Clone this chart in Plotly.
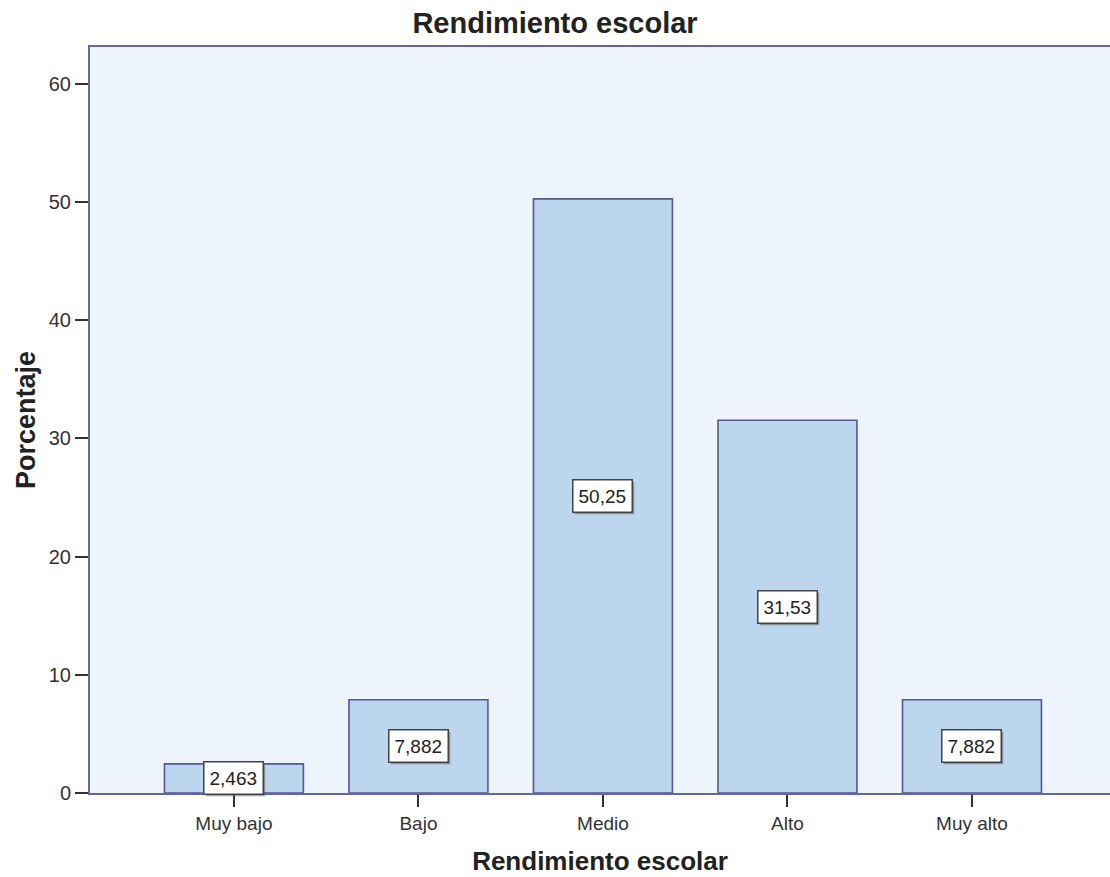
import plotly.graph_objects as go

# Rendimiento escolar: percentage of students per performance level
categorias = ["Muy bajo", "Bajo", "Medio", "Alto", "Muy alto"]
porcentajes = [2.463, 7.882, 50.25, 31.53, 7.882]
y_ticks = [0, 10, 20, 30, 40, 50, 60]

FONT = "Liberation Sans, Arial, sans-serif"
AXIS_BLUE = "#6565a3"
BAR_FILL = "#bcd6ee"
BAR_LINE = "#56569a"
PLOT_BG = "#edf4fc"
TEXT = "#222222"


def etiqueta(v):
    # four significant digits with a decimal comma
    return f"{v:.4g}".replace(".", ",")


fig = go.Figure(
    go.Bar(
        x=list(range(len(categorias))),
        y=porcentajes,
        width=0.753,
        marker=dict(color=BAR_FILL, line=dict(color=BAR_LINE, width=1.6)),
        hoverinfo="skip",
    )
)

# value labels: white boxes with a soft drop shadow, centred in each bar
for i, v in enumerate(porcentajes):
    fig.add_annotation(
        x=i, y=v / 2, text=etiqueta(v), showarrow=False,
        xshift=2, yshift=-2,
        font=dict(family=FONT, size=19, color="rgba(0,0,0,0)"),
        bgcolor="rgba(90,90,90,0.55)", bordercolor="rgba(90,90,90,0.0)",
        borderwidth=1.5, borderpad=5,
    )
    fig.add_annotation(
        x=i, y=v / 2, text=etiqueta(v), showarrow=False,
        font=dict(family=FONT, size=19, color=TEXT),
        bgcolor="white", bordercolor="#444444",
        borderwidth=1.5, borderpad=5,
    )

fig.update_layout(
    width=1110,
    height=877,
    margin=dict(l=90, r=0, t=47, b=84),
    paper_bgcolor="white",
    plot_bgcolor=PLOT_BG,
    showlegend=False,
    font=dict(family=FONT, color=TEXT),
    title=dict(
        text="Rendimiento escolar",
        x=0.5, xanchor="center",
        y=1 - 23 / 877, yanchor="middle", yref="container",
        font=dict(family=FONT, size=29, weight="bold", color=TEXT),
    ),
    xaxis=dict(
        range=[-0.78, 4.748],
        tickmode="array",
        tickvals=list(range(len(categorias))),
        ticktext=categorias,
        ticks="outside", ticklen=12, tickwidth=2, tickcolor="#333333",
        tickfont=dict(family=FONT, size=19, color="#333333"),
        showline=True, linecolor=AXIS_BLUE, linewidth=2, mirror=True,
        showgrid=False, zeroline=False,
        title=dict(
            text="Rendimiento escolar",
            font=dict(family=FONT, size=26, weight="bold", color=TEXT),
            standoff=19,
        ),
    ),
    yaxis=dict(
        range=[0, 63.1],
        tickmode="array",
        tickvals=y_ticks,
        ticks="outside", ticklen=13, tickwidth=2, tickcolor="#333333",
        tickfont=dict(family=FONT, size=20, color="#333333"),
        showline=True, linecolor=AXIS_BLUE, linewidth=2,
        showgrid=False, zeroline=False,
        title=dict(
            text="Porcentaje",
            font=dict(family=FONT, size=27, weight="bold", color=TEXT),
            standoff=5,
        ),
    ),
)

fig.write_html("out.html")
